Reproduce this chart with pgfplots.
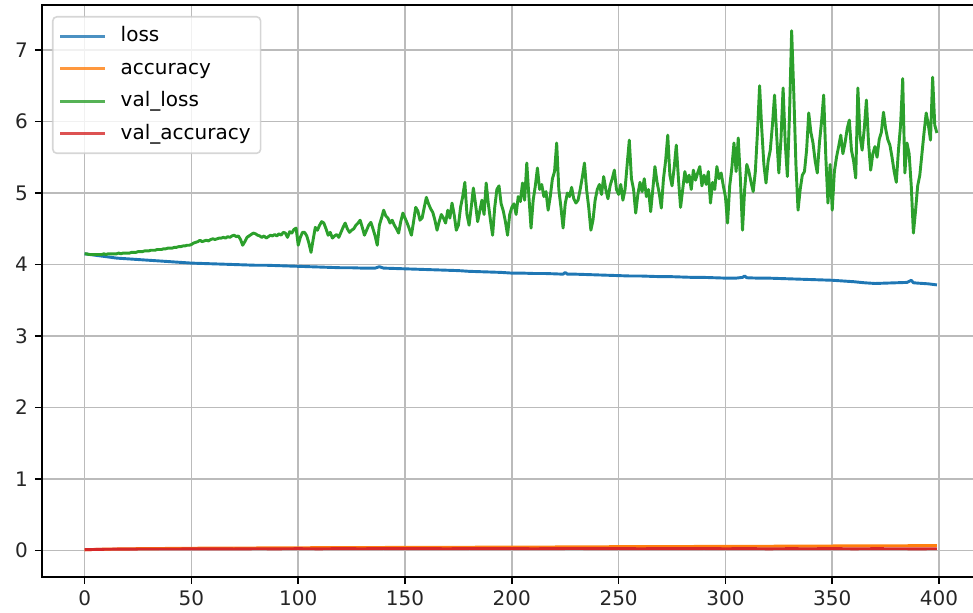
\documentclass[border=0pt]{standalone}
\usepackage{fontspec}
\setmainfont{DejaVu Sans}
\usepackage{pgfplots}
\pgfplotsset{compat=1.18}

\definecolor{tabblue}{HTML}{1F77B4}
\definecolor{taborange}{HTML}{FF7F0E}
\definecolor{tabgreen}{HTML}{2CA02C}
\definecolor{tabred}{HTML}{D62728}
\definecolor{gridgray}{HTML}{BBBBBB}
\definecolor{framegray}{HTML}{CCCCCC}

\begin{document}
\begin{tikzpicture}
\begin{axis}[
  at={(0,0)}, anchor=south west,
  scale only axis, width=468.75pt, height=286pt,
  xmin=-19.95, xmax=418.95, ymin=-0.37, ymax=7.63,
  xtick={0,50,...,400}, ytick={0,1,...,7},
  grid=major,
  major grid style={draw=gridgray, line width=0.75pt},
  axis line style={line width=0.78pt, black},
  tick align=outside, tick pos=left,
  major tick length=3.5pt,
  tick style={line width=0.78pt, black},
  tick label style={font=\fontsize{10}{12}\selectfont, black!85},
  /pgf/number format/assume math mode=true,
  scaled ticks=false,
  every axis plot/.append style={line width=1.46pt, line join=round, no marks},
  legend cell align=left,
  legend image code/.code={\draw[#1] (0pt,0pt) -- (22.5pt,0pt);},
  legend style={
    at={(0,1)}, anchor=north west, xshift=5pt, yshift=-5.5pt,
    draw=framegray, line width=0.8pt, rounded corners=2pt,
    fill=white, fill opacity=0.8, draw opacity=0.8, text opacity=1,
    inner xsep=3pt, inner ysep=3pt, row sep=2.75pt,
    font=\fontsize{10}{12}\selectfont,
    nodes={inner xsep=2pt, inner ysep=2pt, text height=7.5pt, text depth=2pt},
    /tikz/every odd column/.append style={column sep=5pt},
  },
]

% training loss
\addplot[tabblue] coordinates {
(0,4.15)(5,4.13)(10,4.11)(15,4.09)(20,4.08)(25,4.07)(30,4.06)(35,4.05)(40,4.04)(45,4.03)
(50,4.02)(55,4.015)(60,4.01)(65,4.005)(70,4.00)(75,3.995)(80,3.99)(85,3.99)(90,3.985)(95,3.98)
(100,3.975)(105,3.97)(110,3.965)(115,3.96)(120,3.955)(125,3.955)(130,3.95)(136,3.95)(138,3.97)(140,3.95)
(145,3.945)(150,3.94)(155,3.935)(160,3.93)(165,3.925)(170,3.92)(175,3.915)(180,3.905)(185,3.90)(190,3.895)
(195,3.89)(200,3.88)(205,3.88)(210,3.875)(215,3.875)(220,3.87)(224,3.865)(225,3.89)(226,3.865)(230,3.865)
(235,3.86)(240,3.855)(245,3.85)(250,3.845)(255,3.84)(260,3.84)(265,3.835)(270,3.83)(275,3.83)(280,3.825)
(285,3.82)(290,3.82)(295,3.815)(300,3.81)(305,3.81)(308,3.82)(309,3.84)(310,3.815)(315,3.81)(320,3.81)
(325,3.805)(330,3.80)(335,3.795)(340,3.79)(345,3.785)(350,3.78)(355,3.77)(360,3.76)(365,3.745)(370,3.735)
(375,3.74)(380,3.745)(385,3.75)(387,3.78)(388,3.745)(390,3.74)(395,3.73)(399,3.715)
};
\addlegendentry{loss}

% training accuracy
\addplot[taborange] coordinates {
(0,0.010)(5,0.016)(10,0.020)(15,0.022)(20,0.024)(25,0.026)(30,0.027)(35,0.028)(40,0.030)(45,0.031)
(50,0.032)(55,0.033)(60,0.034)(65,0.034)(70,0.035)(75,0.036)(80,0.036)(85,0.037)(90,0.038)(95,0.038)
(100,0.039)(110,0.040)(120,0.041)(130,0.041)(140,0.043)(150,0.044)(160,0.044)(170,0.046)(180,0.046)(190,0.048)
(200,0.049)(210,0.050)(220,0.050)(230,0.052)(240,0.053)(250,0.054)(260,0.054)(270,0.056)(280,0.056)(290,0.058)
(300,0.059)(310,0.060)(320,0.060)(330,0.062)(340,0.062)(350,0.064)(360,0.065)(370,0.066)(380,0.067)(390,0.068)(399,0.070)
};
\addlegendentry{accuracy}

% validation loss
\addplot[tabgreen] coordinates {
(0,4.15)(1,4.15)(2,4.14)(3,4.14)(4,4.14)(5,4.14)(6,4.14)(7,4.14)(8,4.14)(9,4.15)
(10,4.14)(11,4.15)(12,4.15)(13,4.15)(14,4.15)(15,4.15)(16,4.16)(17,4.15)(18,4.16)(19,4.16)
(20,4.16)(21,4.16)(22,4.17)(23,4.17)(24,4.17)(25,4.18)(26,4.18)(27,4.18)(28,4.19)(29,4.19)
(30,4.19)(31,4.20)(32,4.20)(33,4.20)(34,4.21)(35,4.21)(36,4.21)(37,4.22)(38,4.22)(39,4.23)
(40,4.23)(41,4.23)(42,4.24)(43,4.24)(44,4.25)(45,4.25)(46,4.26)(47,4.26)(48,4.27)(49,4.27)
(50,4.28)(51,4.30)(52,4.31)(53,4.32)(54,4.34)(55,4.32)(56,4.33)(57,4.34)(58,4.33)(59,4.35)
(60,4.36)(61,4.35)(62,4.36)(63,4.37)(64,4.37)(65,4.38)(66,4.37)(67,4.39)(68,4.38)(69,4.40)
(70,4.41)(71,4.39)(72,4.40)(73,4.35)(74,4.27)(75,4.32)(76,4.38)(77,4.40)(78,4.42)(79,4.44)
(80,4.43)(81,4.41)(82,4.40)(83,4.38)(84,4.40)(85,4.37)(86,4.39)(87,4.41)(88,4.40)(89,4.42)
(90,4.40)(91,4.43)(92,4.41)(93,4.45)(94,4.44)(95,4.38)(96,4.46)(97,4.44)(98,4.49)(99,4.51)
(100,4.27)(101,4.38)(102,4.45)(103,4.45)(104,4.40)(105,4.30)(106,4.17)(107,4.35)(108,4.52)(109,4.48)
(110,4.55)(111,4.60)(112,4.58)(113,4.50)(114,4.41)(115,4.45)(116,4.37)(117,4.40)(118,4.42)(119,4.38)
(120,4.45)(121,4.52)(122,4.58)(123,4.50)(124,4.45)(125,4.48)(126,4.50)(127,4.55)(128,4.58)(129,4.62)
(130,4.52)(131,4.41)(132,4.48)(133,4.55)(134,4.59)(135,4.50)(136,4.40)(137,4.27)(138,4.55)(139,4.65)
(140,4.76)(141,4.68)(142,4.65)(143,4.58)(144,4.62)(145,4.55)(146,4.50)(147,4.44)(148,4.60)(149,4.72)
(150,4.65)(151,4.58)(152,4.50)(153,4.41)(154,4.60)(155,4.80)(156,4.75)(157,4.62)(158,4.65)(159,4.80)
(160,4.94)(161,4.85)(162,4.78)(163,4.73)(164,4.62)(165,4.48)(166,4.60)(167,4.70)(168,4.65)(169,4.58)
(170,4.76)(171,4.65)(172,4.86)(173,4.70)(174,4.48)(175,4.55)(176,4.80)(177,4.95)(178,5.15)(179,4.70)
(180,4.55)(181,4.80)(182,5.07)(183,4.85)(184,4.60)(185,4.75)(186,4.90)(187,4.70)(188,5.14)(189,4.85)
(190,4.62)(191,4.41)(192,4.80)(193,5.05)(194,5.10)(195,4.85)(196,4.75)(197,4.60)(198,4.41)(199,4.70)
(200,4.80)(201,4.85)(202,4.70)(203,4.95)(204,4.88)(205,5.14)(206,4.90)(207,5.42)(208,4.95)(209,4.51)
(210,4.90)(211,5.10)(212,5.35)(213,5.05)(214,5.12)(215,4.95)(216,5.02)(217,4.76)(218,4.95)(219,5.20)
(220,5.30)(221,5.70)(222,5.05)(223,4.80)(224,4.51)(225,4.85)(226,5.00)(227,4.95)(228,5.08)(229,4.92)
(230,4.86)(231,4.90)(232,5.05)(233,5.22)(234,5.42)(235,5.05)(236,4.80)(237,4.48)(238,4.62)(239,4.90)
(240,5.05)(241,5.12)(242,4.98)(243,5.23)(244,5.05)(245,4.92)(246,5.10)(247,5.20)(248,5.32)(249,5.05)
(250,4.98)(251,5.12)(252,4.90)(253,5.05)(254,5.40)(255,5.74)(256,5.20)(257,5.05)(258,4.72)(259,4.98)
(260,5.15)(261,5.02)(262,5.20)(263,4.95)(264,5.05)(265,4.74)(266,5.05)(267,5.37)(268,5.15)(269,5.00)
(270,4.79)(271,5.20)(272,5.45)(273,5.81)(274,5.25)(275,5.10)(276,5.35)(277,5.67)(278,5.20)(279,4.80)
(280,5.05)(281,5.30)(282,5.15)(283,5.25)(284,5.05)(285,5.32)(286,5.18)(287,5.28)(288,5.37)(289,5.10)
(290,5.25)(291,5.12)(292,5.30)(293,4.86)(294,5.15)(295,5.05)(296,5.37)(297,5.20)(298,5.28)(299,5.10)
(300,4.95)(301,4.58)(302,5.10)(303,5.35)(304,5.70)(305,5.30)(306,5.77)(307,5.20)(308,4.48)(309,5.05)
(310,5.40)(311,5.30)(312,5.15)(313,5.02)(314,5.30)(315,5.85)(316,6.50)(317,5.90)(318,5.40)(319,5.14)
(320,5.45)(321,5.60)(322,5.95)(323,6.37)(324,5.80)(325,5.28)(326,5.75)(327,6.47)(328,5.70)(329,5.23)
(330,6.10)(331,7.27)(332,6.40)(333,5.40)(334,4.76)(335,5.05)(336,5.25)(337,5.30)(338,5.60)(339,6.12)
(340,5.85)(341,5.70)(342,5.45)(343,5.28)(344,5.70)(345,6.00)(346,6.37)(347,5.50)(348,4.86)(349,5.40)
(350,4.76)(351,5.30)(352,5.50)(353,5.65)(354,5.81)(355,5.55)(356,5.70)(357,5.90)(358,6.02)(359,5.60)
(360,5.45)(361,5.21)(362,6.47)(363,5.80)(364,5.60)(365,5.90)(366,6.30)(367,5.70)(368,5.32)(369,5.55)
(370,5.65)(371,5.50)(372,5.75)(373,5.85)(374,6.13)(375,5.90)(376,5.75)(377,5.67)(378,5.50)(379,5.30)
(380,5.15)(381,5.60)(382,5.95)(383,6.60)(384,5.28)(385,5.70)(386,5.55)(387,5.10)(388,4.44)(389,4.75)
(390,5.10)(391,5.25)(392,5.55)(393,5.85)(394,6.12)(395,5.95)(396,5.74)(397,6.62)(398,5.95)(399,5.84)
};
\addlegendentry{val\_loss}

% validation accuracy
\addplot[tabred] coordinates {
(0,0.012)(10,0.018)(20,0.020)(30,0.022)(40,0.021)(50,0.023)(60,0.024)(70,0.022)(80,0.025)(90,0.024)
(100,0.026)(110,0.024)(120,0.027)(130,0.025)(140,0.028)(150,0.026)(160,0.027)(170,0.025)(180,0.028)(190,0.026)
(200,0.028)(210,0.025)(220,0.027)(230,0.029)(240,0.026)(250,0.028)(260,0.025)(270,0.027)(280,0.026)(290,0.028)
(300,0.025)(310,0.027)(320,0.024)(330,0.026)(340,0.025)(350,0.027)(360,0.024)(370,0.026)(380,0.025)(390,0.024)(399,0.025)
};
\addlegendentry{val\_accuracy}

\end{axis}
\pgfresetboundingbox
\useasboundingbox (-21pt,-18pt) rectangle (465.5pt,288.5pt);
\end{tikzpicture}
\end{document}
